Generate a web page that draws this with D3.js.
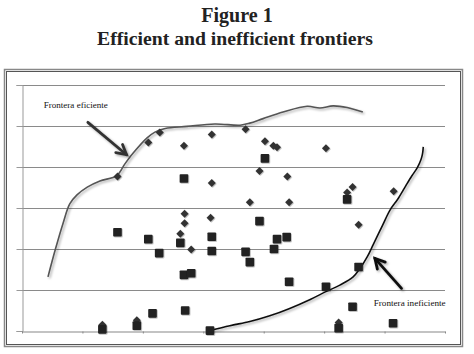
<!DOCTYPE html>
<html>
<head>
<meta charset="utf-8">
<script src="https://cdn.jsdelivr.net/npm/d3@7"></script>
<style>
  html, body { margin: 0; padding: 0; background: #fff; }
  svg { display: block; }
</style>
</head>
<body>
<svg id="chart" width="474" height="354"></svg>
<script>
// ---- Data (axis units are unlabeled in the reference) ----
const titleLines = ["Figure 1", "Efficient and inefficient frontiers"];
const xTicks = [0, 10, 20, 30, 40, 50, 60, 70];
const yTicks = [0, 10, 20, 30, 40, 50, 60];

// diamonds: [x, y]
const diamonds = [
  [15.8, 37.7], [20.9, 46.0], [22.8, 48.4], [26.8, 45.2], [31.4, 47.9], [31.4, 36.1],
  [37.0, 49.2], [40.2, 46.3], [41.6, 45.2], [42.2, 44.8], [50.3, 44.6], [39.3, 39.0],
  [43.9, 37.7], [54.7, 35.1], [53.8, 33.8], [61.5, 34.1], [37.7, 31.4], [44.2, 31.4],
  [55.7, 25.9], [26.9, 28.6], [26.9, 26.3], [31.2, 27.6], [26.2, 23.7], [28.0, 19.9],
  [13.3, 1.5], [19.0, 2.6], [52.4, 2.1]
];
// squares: [x, y]
const squares = [
  [26.8, 37.2], [40.2, 42.1], [53.8, 32.1], [39.3, 26.8], [15.8, 24.1], [20.9, 22.4],
  [26.2, 21.5], [31.4, 23.0], [22.7, 19.0], [31.4, 19.5], [26.8, 13.7], [28.0, 14.1],
  [21.6, 4.3], [27.0, 5.0], [13.3, 0.4], [19.0, 1.3], [31.1, 0.1], [42.2, 22.4],
  [43.8, 22.9], [37.0, 19.3], [41.7, 20.0], [37.7, 16.8], [55.7, 15.6], [44.2, 12.0],
  [50.3, 10.8], [54.7, 5.9], [52.4, 0.7], [61.4, 1.9]
];
// efficient frontier (hand-drawn curve)
const efficientFrontier = [
  [4.3, 13.2], [5.5, 19.8], [6.8, 26.3], [7.9, 31.0], [9.1, 33.2], [10.8, 35.1],
  [12.9, 36.6], [15.7, 37.9], [17.0, 40.7], [18.4, 43.4], [20.7, 47.1], [22.0, 48.5],
  [23.7, 49.4], [27.3, 49.9], [31.9, 50.5], [36.1, 50.2], [37.7, 50.7], [39.9, 51.8],
  [43.2, 53.4], [47.2, 54.8], [49.3, 54.4], [51.5, 54.9], [53.8, 54.5], [56.4, 53.4]
];
// inefficient frontier (hand-drawn curve)
const inefficientFrontier = [
  [31.1, 0.1], [34.4, 1.3], [37.7, 2.3], [41.0, 3.7], [44.3, 5.5], [47.7, 7.7],
  [50.3, 9.6], [52.6, 11.2], [54.8, 13.2], [55.9, 15.2], [57.1, 18.0], [58.1, 21.0],
  [59.7, 25.9], [60.9, 29.5], [62.2, 32.2], [63.5, 35.4], [64.5, 37.8], [65.4, 39.8],
  [66.0, 41.7], [66.3, 43.4], [66.4, 44.9]
];
// annotations: label text, label anchor, arrow tail, arrow tip
const labels = ["Frontera eficiente", "Frontera ineficiente"];
const labelPos = [[3.6, 54.4], [58.2, 6.1]];
const arrowTails = [[10.9, 50.9], [62.8, 10.4]];
const arrowTips = [[17.3, 43.0], [58.4, 17.7]];

// ---- Drawing ----
const svg = d3.select("#chart");
const W = 474, H = 354;
const plot = { left: 22, right: 445, top: 85, bottom: 331 };

const x = d3.scaleLinear().domain([0, 70]).range([plot.left, plot.right]);
const y = d3.scaleLinear().domain([0, 60]).range([plot.bottom, plot.top]);

const defs = svg.append("defs");
const sh = defs.append("filter").attr("id", "shadow")
  .attr("x", "-20%").attr("y", "-20%").attr("width", "140%").attr("height", "140%");
sh.append("feDropShadow").attr("dx", 1.5).attr("dy", 1.5).attr("stdDeviation", 1.2)
  .attr("flood-color", "#000").attr("flood-opacity", 0.35);
const shs = defs.append("filter").attr("id", "shadowS")
  .attr("x", "-50%").attr("y", "-50%").attr("width", "200%").attr("height", "200%");
shs.append("feDropShadow").attr("dx", 0.8).attr("dy", 0.8).attr("stdDeviation", 0.6)
  .attr("flood-color", "#000").attr("flood-opacity", 0.3);

// Title
svg.append("text").attr("x", 237).attr("y", 22).attr("text-anchor", "middle")
  .attr("font-family", "Liberation Serif, DejaVu Serif, serif").attr("font-weight", "bold")
  .attr("font-size", 20).attr("fill", "#222").text(titleLines[0]);
svg.append("text").attr("x", 235).attr("y", 44.5).attr("text-anchor", "middle")
  .attr("font-family", "Liberation Serif, DejaVu Serif, serif").attr("font-weight", "bold")
  .attr("font-size", 19.7).attr("fill", "#222").text(titleLines[1]);

// Frame
svg.append("rect").attr("x", 4.5).attr("y", 69.5).attr("width", 458).attr("height", 277)
  .attr("fill", "none").attr("stroke", "#888").attr("stroke-width", 1.5);
svg.append("rect").attr("x", 6.5).attr("y", 71.5).attr("width", 454).attr("height", 273)
  .attr("fill", "none").attr("stroke", "#555").attr("stroke-width", 1);

// Gridlines
svg.append("g").selectAll("line").data(yTicks.filter(d => d > 0)).join("line")
  .attr("x1", plot.left).attr("x2", plot.right)
  .attr("y1", d => Math.round(y(d)) + 0.5).attr("y2", d => Math.round(y(d)) + 0.5)
  .attr("stroke", "#8a8a8a").attr("stroke-width", 1);

// Y axis
const yAxis = svg.append("g").attr("transform", `translate(${plot.left + 0.5},0)`)
  .call(d3.axisLeft(y).tickValues(yTicks).tickSize(6).tickFormat(""));
yAxis.selectAll("path, line").attr("stroke", "#999");

// X axis
const xAxis = svg.append("g").attr("transform", `translate(0,${Math.round(y(0)) + 0.5})`)
  .call(d3.axisBottom(x).tickValues(xTicks).tickSize(2).tickSizeOuter(0).tickFormat(""));
xAxis.selectAll("path, line").attr("stroke", "#888");
xAxis.select("path").attr("stroke-width", 1.2);

// Curves
const line = d3.line().x(d => x(d[0])).y(d => y(d[1])).curve(d3.curveCatmullRom.alpha(0.5));
svg.append("path").datum(efficientFrontier).attr("d", line)
  .attr("fill", "none").attr("stroke", "#555").attr("stroke-width", 1.6)
  .attr("filter", "url(#shadow)");
svg.append("path").datum(inefficientFrontier).attr("d", line)
  .attr("fill", "none").attr("stroke", "#111").attr("stroke-width", 1.6)
  .attr("filter", "url(#shadow)");

// Markers
const diamondPath = r => `M0,${-r}L${r},0L0,${r}L${-r},0Z`;
svg.append("g").selectAll("path").data(diamonds).join("path")
  .attr("transform", d => `translate(${x(d[0])},${y(d[1])})`)
  .attr("d", diamondPath(4))
  .attr("fill", "#333").attr("filter", "url(#shadowS)");
const sq = 8.6;
svg.append("g").selectAll("rect").data(squares).join("rect")
  .attr("x", d => x(d[0]) - sq / 2).attr("y", d => y(d[1]) - sq / 2)
  .attr("width", sq).attr("height", sq).attr("rx", 0.8)
  .attr("fill", "#222").attr("filter", "url(#shadowS)");

// Arrows
const arrowColors = ["#333", "#111"];
arrowTails.forEach((t, i) => {
  const x0 = x(t[0]), y0 = y(t[1]);
  const x1 = x(arrowTips[i][0]), y1 = y(arrowTips[i][1]);
  const ang = Math.atan2(y1 - y0, x1 - x0);
  const L = 11, a = 0.5;
  const p1 = [x1 - L * Math.cos(ang - a), y1 - L * Math.sin(ang - a)];
  const p2 = [x1 - L * Math.cos(ang + a), y1 - L * Math.sin(ang + a)];
  const g = svg.append("g").attr("filter", "url(#shadow)");
  g.append("line").attr("x1", x0).attr("y1", y0).attr("x2", x1).attr("y2", y1)
    .attr("stroke", arrowColors[i]).attr("stroke-width", 2.8).attr("stroke-linecap", "round");
  g.append("path").attr("d", `M${p1[0]},${p1[1]}L${x1},${y1}L${p2[0]},${p2[1]}`)
    .attr("fill", "none").attr("stroke", arrowColors[i]).attr("stroke-width", 2.8)
    .attr("stroke-linecap", "round").attr("stroke-linejoin", "miter");
});

// Labels
labels.forEach((t, i) => {
  svg.append("text").attr("x", x(labelPos[i][0])).attr("y", y(labelPos[i][1]))
    .attr("font-family", "Liberation Serif, DejaVu Serif, serif")
    .attr("font-size", 8.6).attr("fill", "#111")
    .attr("textLength", i === 0 ? 64 : 72).attr("lengthAdjust", "spacingAndGlyphs")
    .text(t);
});
</script>
</body>
</html>
